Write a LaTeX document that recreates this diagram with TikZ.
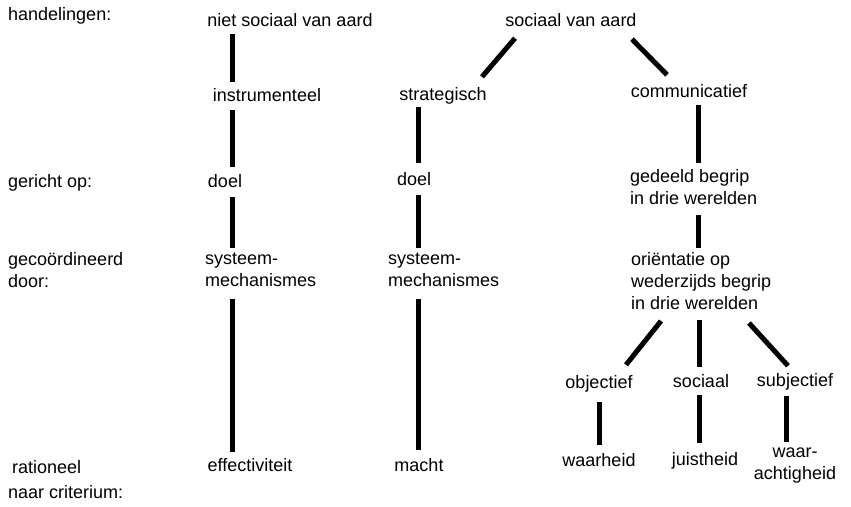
\documentclass[tikz,border=0pt]{standalone}
\usepackage{fontspec}
\setmainfont{Liberation Sans}
\usetikzlibrary{calc}
\newcommand{\lblfont}{\fontsize{18}{22}\selectfont}
\begin{document}
\begin{tikzpicture}[x=1pt,y=-1pt,
  lbl/.style={inner sep=0pt, font=\lblfont, execute at begin node=\strut, execute at end node=\strut},
  conn/.style={line width=5pt}]
\useasboundingbox (0,0) rectangle (851,506);
% column coordinates
\coordinate (cL) at (232,0);
\coordinate (cM) at (418,0);
\coordinate (cR) at (698,0);
\coordinate (cS) at (699,0);
\coordinate (cJ) at (786,0);
% labels
\node[lbl, anchor=base west] (hand) at (8,20) {handelingen:};
\node[lbl, anchor=base] (niet) at (290,27) {niet sociaal van aard};
\node[lbl, anchor=base] (sva) at (571,27) {sociaal van aard};
\node[lbl, anchor=base] (instr) at (267,101) {instrumenteel};
\node[lbl, anchor=base] (strat) at (443,100) {strategisch};
\node[lbl, anchor=base] (comm) at (689,97) {communicatief};
\node[lbl, anchor=base west] (gericht) at (8,187) {gericht op:};
\node[lbl, anchor=base] (doelL) at (225,187) {doel};
\node[lbl, anchor=base west] (doelM) at (397,185) {doel};
\node[lbl, anchor=north west, align=left] (gedeeld) at (630,169.6) {gedeeld begrip\\in drie werelden};
\node[lbl, anchor=north west, align=left] (gecoord) at (8,252.6) {gecoördineerd\\door:};
\node[lbl, anchor=north west, align=left] (sysL) at (205,252.6) {systeem-\\mechanismes};
\node[lbl, anchor=north west, align=left] (sysM) at (388,252.6) {systeem-\\mechanismes};
\node[lbl, anchor=north west, align=left] (orient) at (631,252.6) {oriëntatie op\\wederzijds begrip\\in drie werelden};
\node[lbl, anchor=base] (obj) at (599,388) {objectief};
\node[lbl, anchor=base] (soc) at (701,387) {sociaal};
\node[lbl, anchor=base] (subj) at (795,386) {subjectief};
\node[lbl, anchor=base west] (ration) at (12,473) {rationeel};
\node[lbl, anchor=base west] (naar) at (8,498) {naar criterium:};
\node[lbl, anchor=base] (eff) at (250,471) {effectiviteit};
\node[lbl, anchor=base] (macht) at (419,471) {macht};
\node[lbl, anchor=base] (waarh) at (599,466) {waarheid};
\node[lbl, anchor=base] (juist) at (705,465) {juistheid};
\node[lbl, anchor=north, align=center] (waarach) at (795,447.6) {waar-\\achtigheid};
% connectors, left column
\draw[conn, shorten >=3.6pt] (niet.south -| cL) -- (instr.north -| cL);
\draw[conn, shorten <=2.4pt, shorten >=4.6pt] (instr.south -| cL) -- (doelL.north -| cL);
\draw[conn, shorten <=3.4pt, shorten >=4.6pt] (doelL.south -| cL) -- (sysL.north -| cL);
\draw[conn, shorten <=5.4pt, shorten >=3.6pt] (sysL.south -| cL) -- (eff.north -| cL);
% social branches
\draw[conn] ($(sva.south)+(-56,4.4)$) -- ($(strat.north)+(39,-7.6)$);
\draw[conn] ($(sva.south)+(61,5.4)$) -- ($(comm.north)+(-22,-6.6)$);
% middle column
\draw[conn, shorten <=0.4pt, shorten >=6.6pt] (strat.south -| cM) -- (doelM.north -| cM);
\draw[conn, shorten <=3.4pt, shorten >=4.6pt] (doelM.south -| cM) -- (sysM.north -| cM);
\draw[conn, shorten <=5.4pt, shorten >=5.6pt] (sysM.south -| cM) -- (macht.north -| cM);
% right column
\draw[conn, shorten <=1.4pt, shorten >=6.6pt] (comm.south -| cR) -- (gedeeld.north -| cR);
\draw[conn, shorten <=3.4pt, shorten >=4.6pt] (gedeeld.south -| cR) -- (orient.north -| cR);
\draw[conn] ($(orient.south west)+(30,4.4)$) -- ($(obj.north)+(27,-7.6)$);
\draw[conn] ($(orient.south west)+(68,3.4)$) -- ($(soc.north)+(-2,-4.6)$);
\draw[conn] ($(orient.south west)+(118,6.4)$) -- ($(subj.north)+(-7,-4.6)$);
\draw[conn, shorten <=7.4pt, shorten >=5.6pt] (obj.south) -- (waarh.north);
\draw[conn, shorten <=1.4pt, shorten >=6.6pt] (soc.south -| cS) -- (juist.north -| cS);
\draw[conn, shorten <=3.4pt, shorten >=5.6pt] (subj.south -| cJ) -- (waarach.north -| cJ);
\end{tikzpicture}
\end{document}
